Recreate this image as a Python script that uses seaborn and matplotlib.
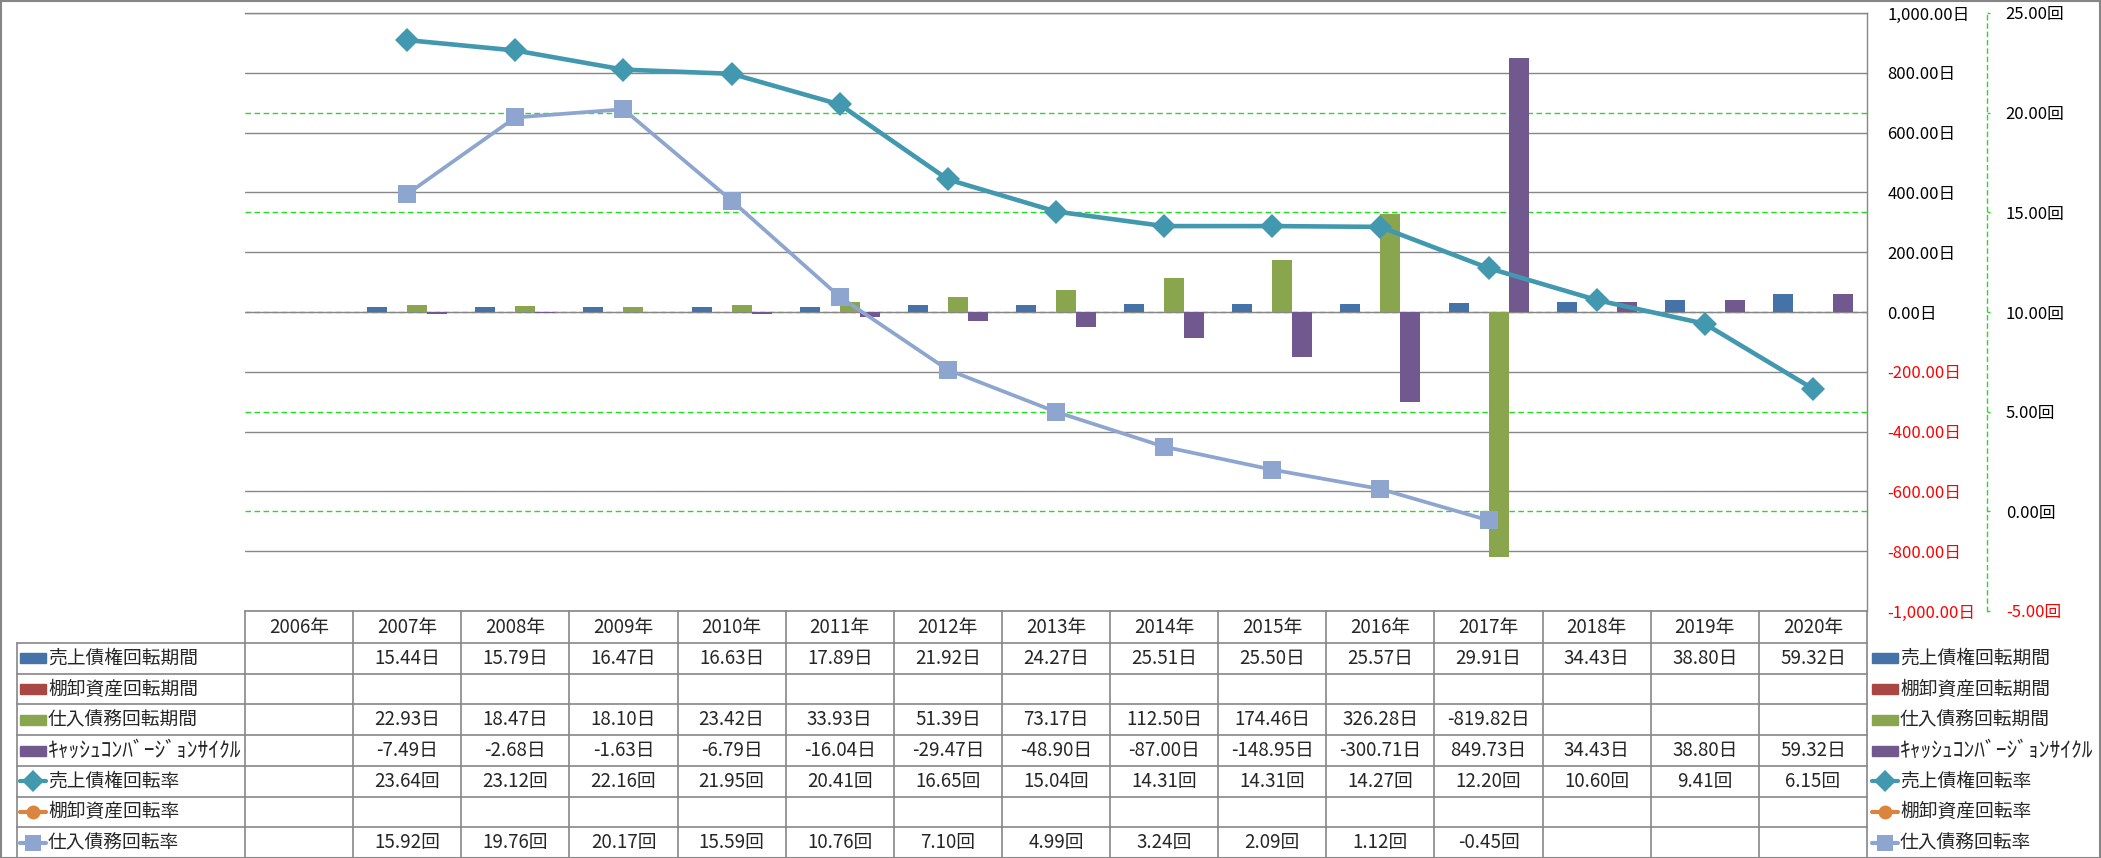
import numpy as np
import pandas as pd
import seaborn as sns
import matplotlib.pyplot as plt
import matplotlib.transforms as mtransforms
from matplotlib.lines import Line2D
from matplotlib.patches import Rectangle

sns.set_theme(style='white')
plt.rcParams['font.family'] = ['Noto Sans CJK JP', 'DejaVu Sans']

nan = np.nan

# データ
years = ['2006年', '2007年', '2008年', '2009年', '2010年', '2011年', '2012年', '2013年',
         '2014年', '2015年', '2016年', '2017年', '2018年', '2019年', '2020年']
ar_days = [nan, 15.44, 15.79, 16.47, 16.63, 17.89, 21.92, 24.27, 25.51, 25.50, 25.57, 29.91, 34.43, 38.80, 59.32]
inv_days = [nan] * 15
ap_days = [nan, 22.93, 18.47, 18.10, 23.42, 33.93, 51.39, 73.17, 112.50, 174.46, 326.28, -819.82, nan, nan, nan]
ccc_days = [nan, -7.49, -2.68, -1.63, -6.79, -16.04, -29.47, -48.90, -87.00, -148.95, -300.71, 849.73, 34.43, 38.80, 59.32]
ar_turn = [nan, 23.64, 23.12, 22.16, 21.95, 20.41, 16.65, 15.04, 14.31, 14.31, 14.27, 12.20, 10.60, 9.41, 6.15]
inv_turn = [nan] * 15
ap_turn = [nan, 15.92, 19.76, 20.17, 15.59, 10.76, 7.10, 4.99, 3.24, 2.09, 1.12, -0.45, nan, nan, nan]

bar_names = ['売上債権回転期間', '棚卸資産回転期間', '仕入債務回転期間', 'ｷｬｯｼｭｺﾝﾊﾞｰｼﾞｮﾝｻｲｸﾙ']
bar_values = [ar_days, inv_days, ap_days, ccc_days]
bar_colors = ['#4572A7', '#AA4643', '#89A54E', '#71588F']
line_names = ['売上債権回転率', '棚卸資産回転率', '仕入債務回転率']
line_values = [ar_turn, inv_turn, ap_turn]
line_colors = ['#4198AF', '#DB843D', '#8EA6CF']
line_markers = ['D', 'o', 's']

primary_ticks = np.arange(-1000, 1001, 200)
secondary_ticks = np.arange(-5, 26, 5)

# レイアウト (ピクセル)
W, H = 2101, 858
L, R, T, B = 245, 1867, 13, 611
header_bottom = 643
row_h = (H - header_bottom) / 7
grid_gray = '#868686'

fig = plt.figure(figsize=(W / 100, H / 100), dpi=100)
fig.patch.set_facecolor('white')


def fx(px):
    return px / W


def fy(py):
    return 1 - py / H


ax = fig.add_axes([fx(L), fy(B), (R - L) / W, (B - T) / H])
ax2 = ax.twinx()

# 棒グラフ (主軸)
df = pd.DataFrame({
    '年': years * len(bar_names),
    '系列': [n for n in bar_names for _ in years],
    '値': [v for vals in bar_values for v in vals],
}).dropna()
sns.barplot(data=df, x='年', y='値', hue='系列', order=years, hue_order=bar_names,
            palette=bar_colors, width=0.74, saturation=1, errorbar=None,
            linewidth=0, legend=False, ax=ax)

# 折れ線 (第2軸)
xpos = np.arange(len(years))
line_w = [3.3, 3.3, 2.7]
marker_s = [12.5, 9, 13]
for vals, c, m, lw, ms in zip(line_values, line_colors, line_markers, line_w, marker_s):
    if np.all(np.isnan(vals)):
        continue
    sns.lineplot(x=xpos, y=vals, ax=ax2, color=c, marker=m, markersize=ms, linewidth=lw,
                 markeredgewidth=0, markeredgecolor=c)

ax.set_xlim(-0.5, len(years) - 0.5)
ax.set_ylim(-1000, 1000)
ax2.set_ylim(-5, 25)
ax.set_xlabel('')
ax.set_ylabel('')
ax2.set_xlabel('')
ax2.set_ylabel('')

# 目盛線
ax.set_axisbelow(True)
ax.grid(axis='y', color=grid_gray, linewidth=1.0)
ax.grid(axis='x', visible=False)
ax2.grid(False)
trans = mtransforms.blended_transform_factory(ax.transAxes, ax2.transData)
for s in secondary_ticks[1:-1]:
    ax.add_line(Line2D([0, 1], [s, s], transform=trans, color='#1FE01F',
                       linestyle=(0, (4, 2.5)), linewidth=1.0, zorder=0.4))
ax.set_ylim(-1000, 1000)

# 主軸ラベル
ax.yaxis.tick_right()
ax.set_yticks(primary_ticks)
ax.set_yticklabels([f'{v:,.2f}日' for v in primary_ticks])
ax.tick_params(axis='y', length=0, pad=14.5, labelsize=12)
ax.tick_params(axis='x', bottom=False, labelbottom=False)
for lbl, v in zip(ax.get_yticklabels(), primary_ticks):
    lbl.set_color('red' if v < 0 else 'black')
for side in ['left', 'bottom']:
    ax.spines[side].set_visible(False)
for side in ['top', 'right']:
    ax.spines[side].set_color(grid_gray)
    ax.spines[side].set_linewidth(1.0)

# 第2軸ラベル
ax2.set_yticks(secondary_ticks)
ax2.set_yticklabels([f'{v:.2f}回' for v in secondary_ticks])
ax2.spines['right'].set_position(('axes', (1987 - L) / (R - L)))
ax2.spines['right'].set_color('#1FE01F')
ax2.spines['right'].set_linestyle((0, (3, 3)))
ax2.spines['right'].set_linewidth(1.0)
for side in ['left', 'top', 'bottom']:
    ax2.spines[side].set_visible(False)
ax2.tick_params(axis='y', direction='out', length=2.5, width=1, color='#1FE01F',
                pad=11, labelsize=12)
for lbl, v in zip(ax2.get_yticklabels(), secondary_ticks):
    lbl.set_color('red' if v < 0 else 'black')
ax2.set_xlim(-0.5, len(years) - 0.5)

# データテーブル
col_w = (R - L) / len(years)
col_edges = [L + i * col_w for i in range(len(years) + 1)]
row_edges = [header_bottom + i * row_h for i in range(8)]
tbl_kw = dict(color=grid_gray, linewidth=1.2, transform=fig.transFigure)

fig.add_artist(Line2D([fx(L), fx(R)], [fy(B), fy(B)], **tbl_kw))
for y in row_edges:
    fig.add_artist(Line2D([fx(17), fx(R)], [fy(y), fy(y)], **tbl_kw))
for x in col_edges:
    fig.add_artist(Line2D([fx(x), fx(x)], [fy(B), fy(H)], **tbl_kw))
fig.add_artist(Line2D([fx(17), fx(17)], [fy(header_bottom), fy(H)], **tbl_kw))

fs = 13.5
for j, yr in enumerate(years):
    fig.text(fx(col_edges[j] + col_w / 2), fy((B + header_bottom) / 2), yr,
             ha='center', va='center', fontsize=fs)

all_names = bar_names + line_names
all_values = bar_values + line_values
units = ['日'] * 4 + ['回'] * 3
for i, (vals, unit) in enumerate(zip(all_values, units)):
    yc = fy(row_edges[i] + row_h / 2)
    for j, v in enumerate(vals):
        if not np.isnan(v):
            fig.text(fx(col_edges[j] + col_w / 2), yc, f'{v:,.2f}{unit}',
                     ha='center', va='center', fontsize=fs)

# 凡例 (左の表と右側)
keys = [('bar', c, None) for c in bar_colors] + list(zip(['line'] * 3, line_colors, line_markers))
key_ms = [8, 7, 8]
for i, (name, (kind, c, m)) in enumerate(zip(all_names, keys)):
    yc = row_edges[i] + row_h / 2
    name_fs = 15.5 if name.startswith('ｷ') else fs
    for x0 in (20, 1872):
        if kind == 'bar':
            fig.add_artist(Rectangle((fx(x0), fy(yc + 5)), 26 / W, 10 / H,
                                     color=c, transform=fig.transFigure))
        else:
            fig.add_artist(Line2D([fx(x0), fx(x0 + 26)], [fy(yc), fy(yc)], color=c,
                                  linewidth=3, transform=fig.transFigure))
            fig.add_artist(Line2D([fx(x0 + 13)], [fy(yc)], color=c, marker=m,
                                  markersize=key_ms[i - 4] + 3, markeredgewidth=0,
                                  transform=fig.transFigure))
        fig.text(fx(x0 + 28), fy(yc), name, ha='left', va='center', fontsize=name_fs)

# 外枠
fig.add_artist(Rectangle((0.5 / W, 0.5 / H), (W - 1.5) / W, (H - 1.5) / H, fill=False,
                         edgecolor=grid_gray, linewidth=1.5, transform=fig.transFigure))

fig.savefig('out.png', dpi=100)
